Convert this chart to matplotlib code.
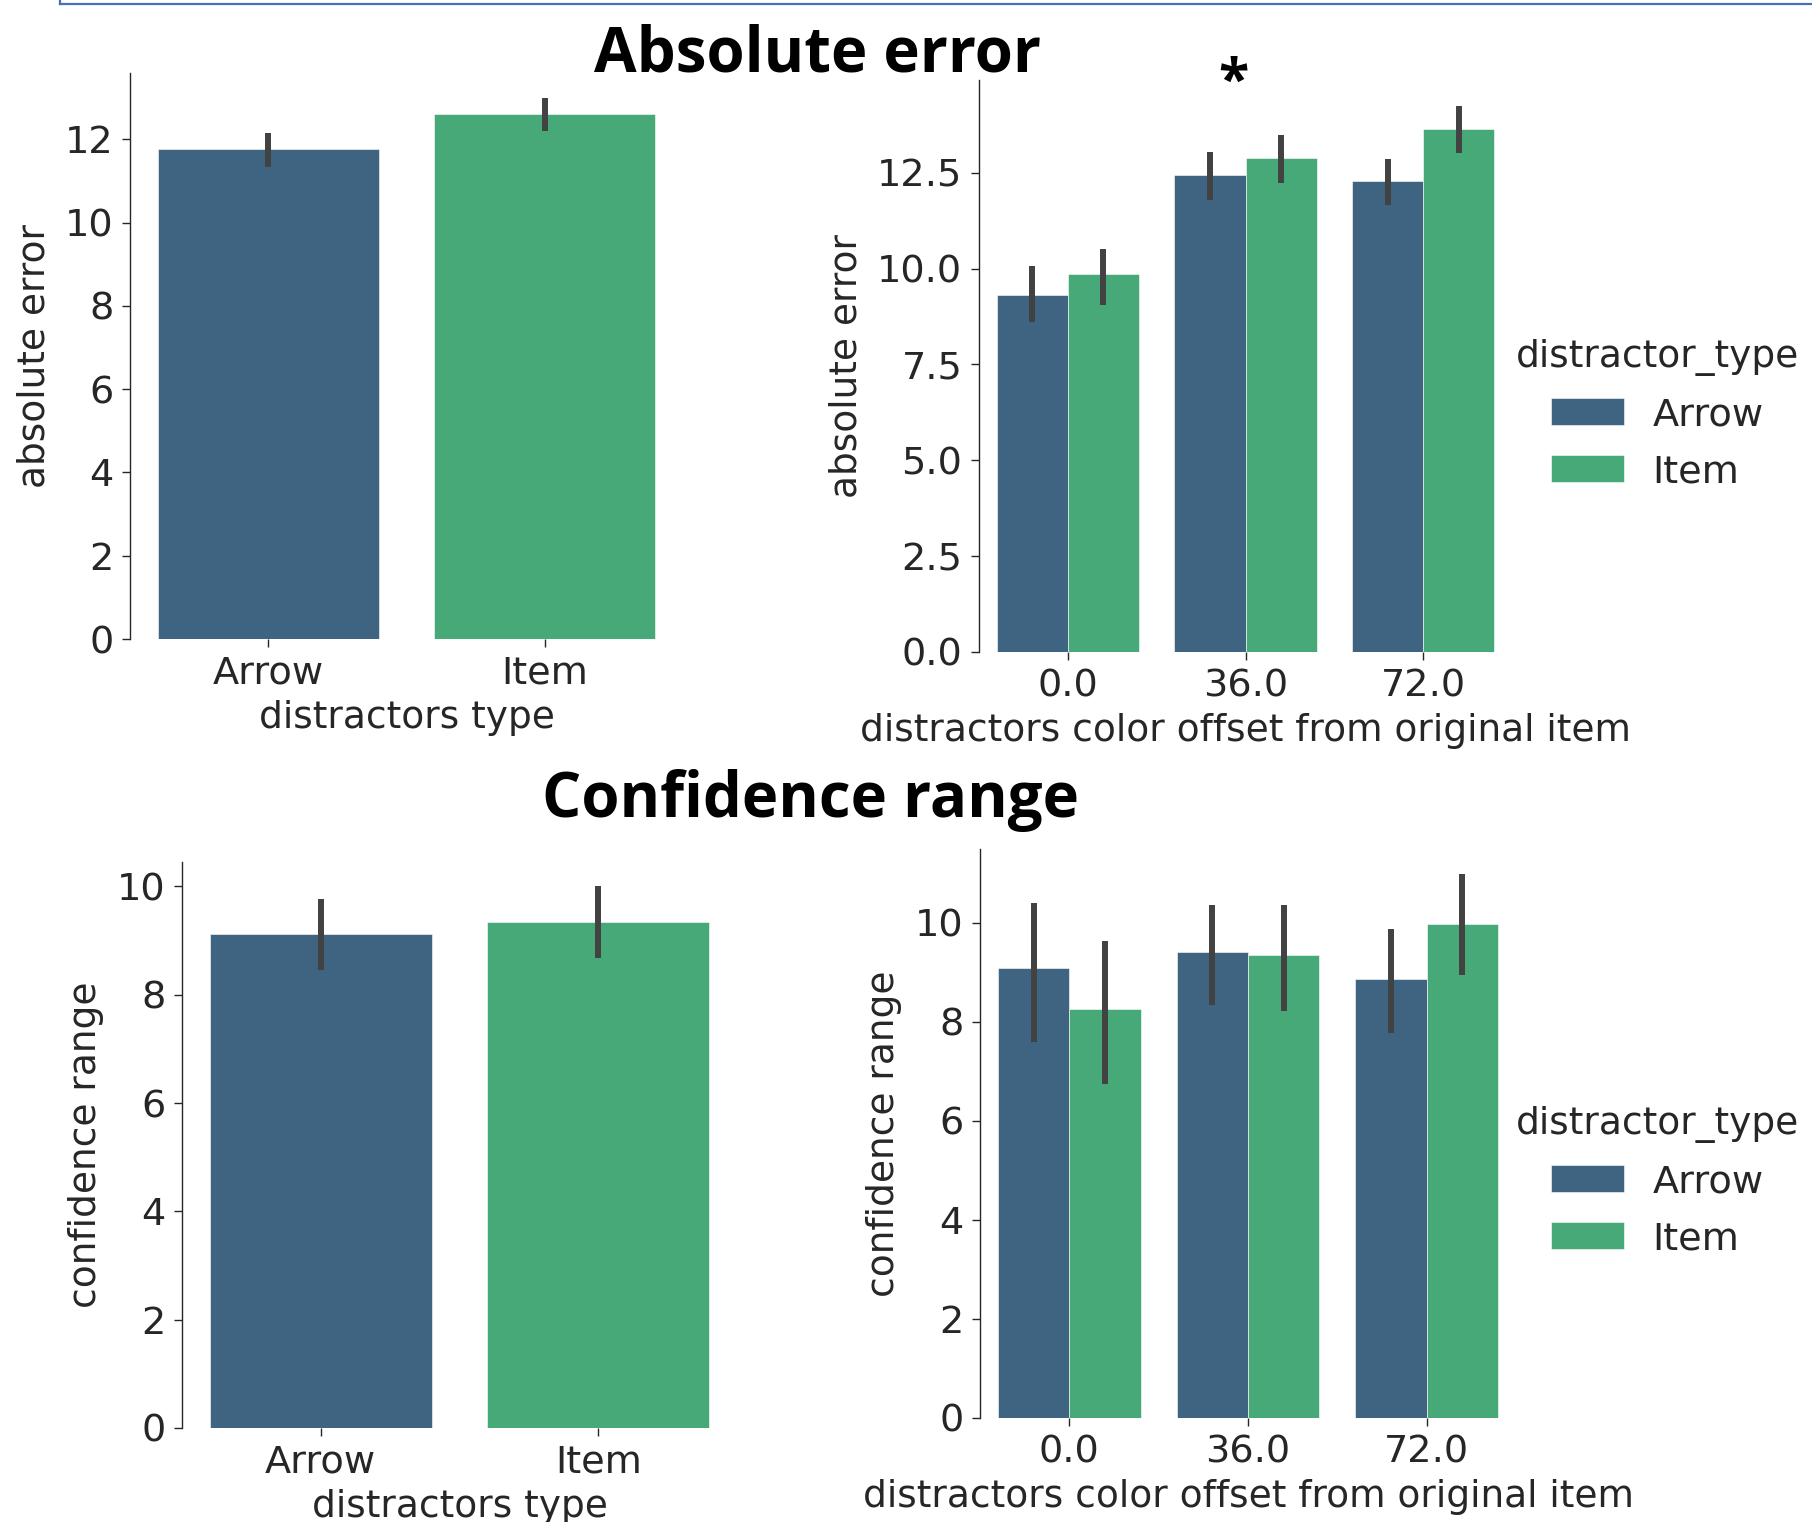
import matplotlib
matplotlib.use("Agg")
import matplotlib.pyplot as plt
from matplotlib.lines import Line2D
from matplotlib.patches import Patch
import numpy as np

# ---------------- data ----------------
types = ["Arrow", "Item"]
offsets = ["0.0", "36.0", "72.0"]

abs_err_type = [11.76, 12.61]
abs_err_type_lo = [11.33, 12.19]
abs_err_type_hi = [12.16, 13.00]

abs_err_arrow = [9.31, 12.44, 12.28]
abs_err_arrow_lo = [8.61, 11.80, 11.65]
abs_err_arrow_hi = [10.07, 13.04, 12.87]
abs_err_item = [9.86, 12.88, 13.65]
abs_err_item_lo = [9.06, 12.24, 13.01]
abs_err_item_hi = [10.51, 13.48, 14.25]

conf_type = [9.12, 9.35]
conf_type_lo = [8.45, 8.67]
conf_type_hi = [9.76, 10.00]

conf_arrow = [9.09, 9.42, 8.86]
conf_arrow_lo = [7.59, 8.34, 7.78]
conf_arrow_hi = [10.39, 10.36, 9.88]
conf_item = [8.25, 9.34, 9.98]
conf_item_lo = [6.74, 8.21, 8.94]
conf_item_hi = [9.64, 10.36, 10.98]

# ---------------- style ----------------
C_ARROW = "#3E6481"
C_ITEM = "#47A878"
C_ERR = "#424242"
TXT = "#262626"
TICK_FS = 27.5
LABEL_FS = 27
ERR_LW = 4.3

plt.rcParams["font.family"] = ["DejaVu Sans"]

W, H = 1812, 1522
fig = plt.figure(figsize=(W / 100, H / 100), dpi=100)


def frac(x0, x1, ytop, ybot):
    return [x0 / W, 1 - ybot / H, (x1 - x0) / W, (ybot - ytop) / H]


def style(ax, ylim, yticks, fmt=None):
    ax.set_ylim(*ylim)
    ax.set_yticks(yticks)
    if fmt:
        ax.set_yticklabels([fmt % v for v in yticks])
    for s in ["top", "right", "bottom"]:
        ax.spines[s].set_visible(False)
    ax.spines["left"].set_color(TXT)
    ax.spines["left"].set_linewidth(1.0)
    ax.tick_params(axis="both", length=6, width=1.0, color=TXT,
                   labelsize=TICK_FS, labelcolor=TXT, pad=6)
    ax.patch.set_alpha(0)


def simple(ax, vals, lo, hi, ylabel, ylim, yticks):
    x = np.arange(len(types))
    ax.bar(x, vals, width=0.8, color=[C_ARROW, C_ITEM], edgecolor="white",
           linewidth=0.4)
    ax.vlines(x, lo, hi, color=C_ERR, lw=ERR_LW)
    ax.set_xlim(-0.5, len(types) - 0.5)
    ax.set_xticks(x)
    ax.set_xticklabels(types)
    style(ax, ylim, yticks)
    ax.set_ylabel(ylabel, fontsize=LABEL_FS, color=TXT, labelpad=9)
    ax.set_xlabel("distractors type", fontsize=LABEL_FS, color=TXT, labelpad=6)


def grouped(ax, a, alo, ahi, it, ilo, ihi, ylabel, ylim, yticks, fmt):
    x = np.arange(len(offsets))
    w = 0.4
    ax.bar(x - w / 2, a, width=w, color=C_ARROW, edgecolor="white", linewidth=0.4)
    ax.bar(x + w / 2, it, width=w, color=C_ITEM, edgecolor="white", linewidth=0.4)
    ax.vlines(x - w / 2, alo, ahi, color=C_ERR, lw=ERR_LW)
    ax.vlines(x + w / 2, ilo, ihi, color=C_ERR, lw=ERR_LW)
    ax.set_xlim(-0.5, len(offsets) - 0.5)
    ax.set_xticks(x)
    ax.set_xticklabels(offsets)
    style(ax, ylim, yticks, fmt)
    ax.set_ylabel(ylabel, fontsize=LABEL_FS, color=TXT, labelpad=9)
    ax.set_xlabel("distractors color offset from original item",
                  fontsize=LABEL_FS, color=TXT, labelpad=6)


ax1 = fig.add_axes(frac(130, 683, 73, 639))
simple(ax1, abs_err_type, abs_err_type_lo, abs_err_type_hi,
       "absolute error", (0, 13.59), [0, 2, 4, 6, 8, 10, 12])

ax2 = fig.add_axes(frac(979, 1512, 80, 652))
grouped(ax2, abs_err_arrow, abs_err_arrow_lo, abs_err_arrow_hi,
        abs_err_item, abs_err_item_lo, abs_err_item_hi,
        "absolute error", (0, 14.92), [0, 2.5, 5, 7.5, 10, 12.5], "%.1f")

ax3 = fig.add_axes(frac(182, 737, 862, 1428))
simple(ax3, conf_type, conf_type_lo, conf_type_hi,
       "confidence range", (0, 10.45), [0, 2, 4, 6, 8, 10])

ax4 = fig.add_axes(frac(980, 1516, 849, 1418))
grouped(ax4, conf_arrow, conf_arrow_lo, conf_arrow_hi,
        conf_item, conf_item_lo, conf_item_hi,
        "confidence range", (0, 11.49), [0, 2, 4, 6, 8, 10], "%g")

handles = [Patch(facecolor=C_ARROW, edgecolor="white", linewidth=0.4),
           Patch(facecolor=C_ITEM, edgecolor="white", linewidth=0.4)]
for ytop in (339, 1106):
    leg = fig.legend(handles, types, title="distractor_type", loc="upper left",
                     bbox_to_anchor=(1516 / W, 1 - ytop / H), frameon=False,
                     fontsize=27.5, title_fontsize=LABEL_FS, borderpad=0,
                     borderaxespad=0, handlelength=1.9, handleheight=0.7,
                     handletextpad=0.75, labelspacing=0.55)
    for t in leg.get_texts():
        t.set_color(TXT)
    leg.get_title().set_color(TXT)

# titles
fig.text(818 / W, 1 - 55 / H, "Absolute error", ha="center", va="center",
         fontsize=44.5, fontweight="bold", family=["Open Sans", "DejaVu Sans"])
fig.text(811 / W, 1 - 800 / H, "Confidence range", ha="center", va="center",
         fontsize=44.5, fontweight="bold", family=["Open Sans", "DejaVu Sans"])
fig.text(1233 / W, 1 - 83 / H, "*", ha="center", va="center",
         fontsize=40, fontweight="bold", family=["Open Sans", "DejaVu Sans"])

# slide border fragment
fig.add_artist(Line2D([60 / W, 1], [1 - 4 / H, 1 - 4 / H], transform=fig.transFigure,
                      color="#4A6FB5", lw=1.6))
fig.add_artist(Line2D([60 / W, 60 / W], [1, 1 - 4 / H], transform=fig.transFigure,
                      color="#4A6FB5", lw=1.6))

fig.savefig("out.png", dpi=100, facecolor="white")
